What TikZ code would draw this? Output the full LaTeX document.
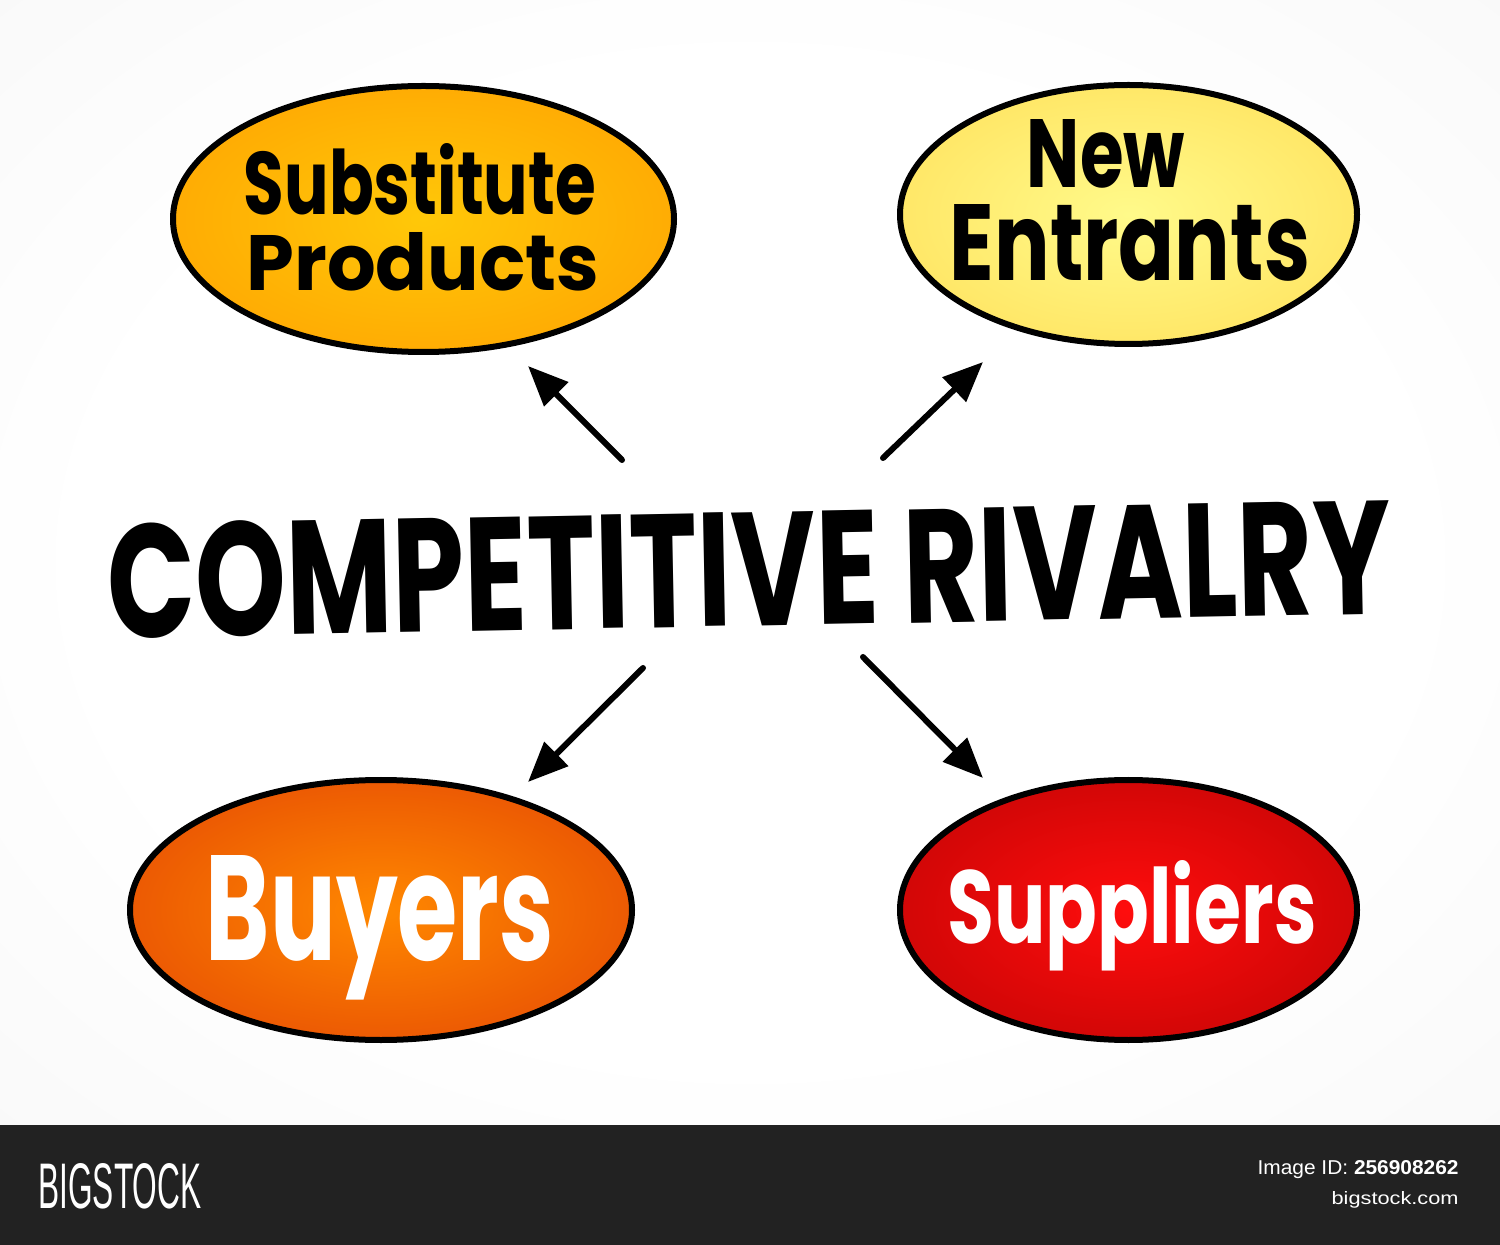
\documentclass[tikz,border=0pt]{standalone}
\usepackage{fontspec}
\usetikzlibrary{shapes.geometric,arrows.meta}
\newfontfamily\hand{Poppins}
\newfontfamily\barfont{Liberation Sans}
\definecolor{bgmid}{HTML}{F3F3F3}
\definecolor{bgcorner}{HTML}{E4E4E4}
\definecolor{barcol}{HTML}{222222}
\definecolor{subin}{HTML}{FFC808}
\definecolor{subout}{HTML}{FF9700}
\definecolor{newin}{HTML}{FFFA8A}
\definecolor{newout}{HTML}{FFD648}
\definecolor{buyin}{HTML}{FF8800}
\definecolor{buyout}{HTML}{DD3505}
\definecolor{supin}{HTML}{FF0D0D}
\definecolor{supout}{HTML}{A50000}
\pgfdeclareradialshading{bgshade}{\pgfpoint{0bp}{0bp}}{color(0bp)=(white); color(22bp)=(white); color(50bp)=(bgmid); color(72bp)=(bgcorner)}
\pgfdeclareradialshading{subshade}{\pgfpoint{0bp}{0bp}}{color(0bp)=(subin); color(44bp)=(subout); color(72bp)=(subout)}
\pgfdeclareradialshading{newshade}{\pgfpoint{0bp}{0bp}}{color(0bp)=(newin); color(48bp)=(newout); color(72bp)=(newout)}
\pgfdeclareradialshading{buyshade}{\pgfpoint{0bp}{0bp}}{color(0bp)=(buyin); color(45bp)=(buyout); color(72bp)=(buyout)}
\pgfdeclareradialshading{supshade}{\pgfpoint{0bp}{0bp}}{color(0bp)=(supin); color(50bp)=(supout); color(72bp)=(supout)}
\tikzset{
  oval/.style={ellipse, draw=black, line width=3pt, inner sep=0pt},
  lbl/.style={inner sep=0pt, anchor=base, font=\hand\bfseries},
  force/.style={line width=3pt, line cap=round, -{Triangle[length=20pt,width=16.5pt]}},
  bartxt/.style={inner sep=0pt, text=white, font=\barfont}
}
\begin{document}
\begin{tikzpicture}[x=0.5pt,y=-0.5pt]
\useasboundingbox (0,0) rectangle (1500,1245);
\path[shading=bgshade] (0,0) rectangle (1500,1125);
\fill[barcol] (0,1125) rectangle (1500,1245);

% ellipses
\node[oval, shading=subshade, minimum width=250.5pt, minimum height=133pt] (sub) at (423.5,219) {};
\node[oval, shading=newshade, minimum width=228.5pt, minimum height=129.5pt] (new) at (1128.5,214.5) {};
\node[oval, shading=buyshade, minimum width=251pt, minimum height=130pt] (buy) at (381,910) {};
\node[oval, shading=supshade, minimum width=228.5pt, minimum height=130pt] (sup) at (1128.5,910) {};

% labels
\node[lbl] (subA) at (420,215) {\resizebox{176pt}{35.5pt}{Substitute}};
\node[lbl] (subB) at (423,291) {\resizebox{176.5pt}{29pt}{Products}};
\node[lbl] (newA) at (1106,188) {\resizebox{79pt}{34pt}{New}};
\node[lbl] (newB) at (1130,281) {\resizebox{180pt}{38pt}{Entrants}};
\node[lbl, text=white] (buyT) at (380,960) {\resizebox{174pt}{52.5pt}{Buyers}};
\node[lbl, text=white] (supT) at (1132,943) {\resizebox{184.5pt}{41.5pt}{Suppliers}};

% title
\node[lbl, rotate=1.1] (title) at (750,626) {\resizebox{642pt}{57.5pt}{COMPETITIVE RIVALRY}};

% arrows
\coordinate (a1s) at (622,460); \coordinate (a1e) at (528,366);
\coordinate (a2s) at (883,458); \coordinate (a2e) at (983,362);
\coordinate (a3s) at (643,668); \coordinate (a3e) at (528,782);
\coordinate (a4s) at (863,657); \coordinate (a4e) at (983,778);
\draw[force] (a1s) -- (a1e);
\draw[force] (a2s) -- (a2e);
\draw[force] (a3s) -- (a3e);
\draw[force] (a4s) -- (a4e);

% bottom bar
\node[bartxt, anchor=base west] (logo) at (38,1208) {\resizebox{81.5pt}{22.5pt}{BIGSTOCK}};
\node[bartxt, anchor=base east] (imgid) at (1459,1174) {\resizebox{100.5pt}{7pt}{Image ID: \textbf{256908262}}};
\node[bartxt, anchor=base east] (site) at (1459,1204) {\resizebox{63.5pt}{6.5pt}{bigstock.com}};
\end{tikzpicture}
\end{document}
